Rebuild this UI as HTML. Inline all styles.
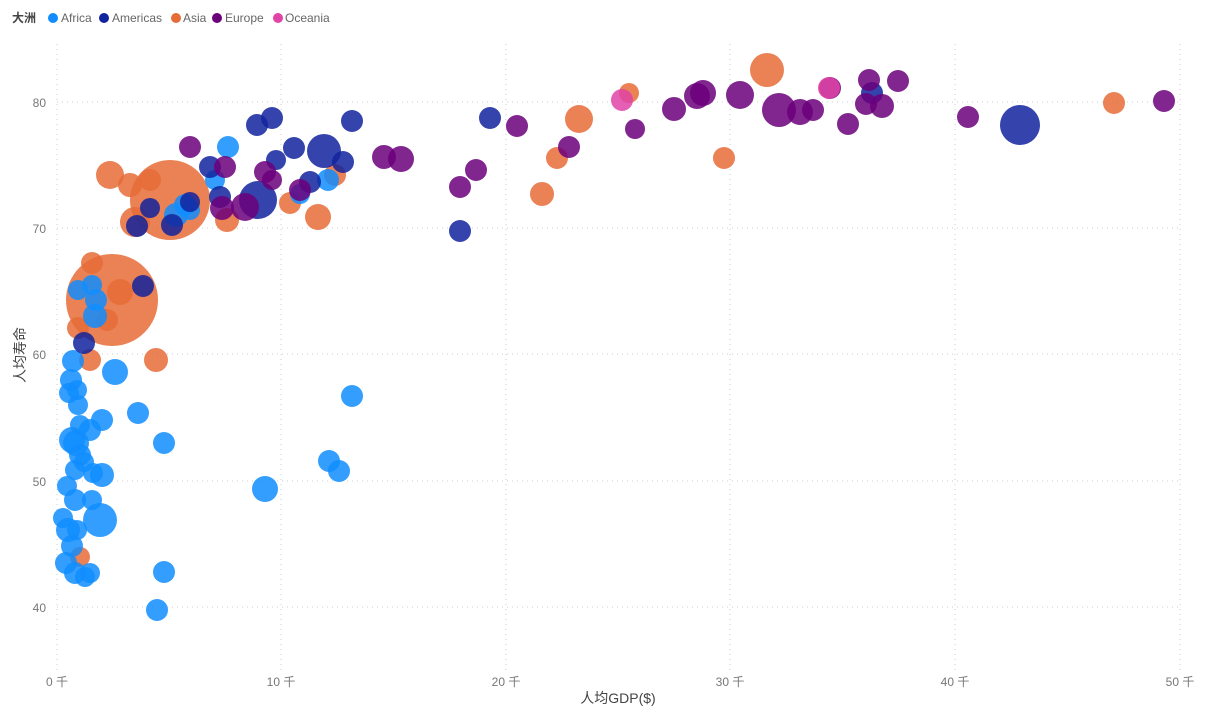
<!DOCTYPE html><html><head><meta charset="utf-8"><style>
body{margin:0;width:1210px;height:712px;background:#fff;overflow:hidden;font-family:"Liberation Sans","Noto Sans CJK SC",sans-serif}
</style></head><body>
<svg width="1210" height="712" xmlns="http://www.w3.org/2000/svg" style="font-family:'Liberation Sans','Noto Sans CJK SC',sans-serif">
<g font-size="12" fill="#444">
<text x="12" y="22" font-weight="bold">大洲</text>
<circle cx="53" cy="18" r="5" fill="#118DFF"/><text x="61" y="22" fill="#666">Africa</text>
<circle cx="104" cy="18" r="5" fill="#12239E"/><text x="112" y="22" fill="#666">Americas</text>
<circle cx="176" cy="18" r="5" fill="#E66C37"/><text x="183" y="22" fill="#666">Asia</text>
<circle cx="217" cy="18" r="5" fill="#6B007B"/><text x="225" y="22" fill="#666">Europe</text>
<circle cx="278" cy="18" r="5" fill="#E044A7"/><text x="285" y="22" fill="#666">Oceania</text>
</g>
<g stroke="#ccc" stroke-dasharray="1,4" stroke-width="1">
<line x1="57" y1="44" x2="57" y2="670"/><line x1="281" y1="44" x2="281" y2="670"/><line x1="506" y1="44" x2="506" y2="670"/><line x1="730" y1="44" x2="730" y2="670"/><line x1="955" y1="44" x2="955" y2="670"/><line x1="1180" y1="44" x2="1180" y2="670"/>
<line x1="57" y1="102" x2="1180" y2="102"/><line x1="57" y1="228" x2="1180" y2="228"/><line x1="57" y1="354" x2="1180" y2="354"/><line x1="57" y1="481" x2="1180" y2="481"/><line x1="57" y1="607" x2="1180" y2="607"/>
</g>
<g font-size="12" fill="#777" text-anchor="end">
<text x="46" y="107">80</text><text x="46" y="233">70</text><text x="46" y="359">60</text><text x="46" y="486">50</text><text x="46" y="612">40</text>
</g>
<g font-size="12" fill="#777" text-anchor="middle">
<text x="57" y="686">0 千</text><text x="281" y="686">10 千</text><text x="506" y="686">20 千</text><text x="730" y="686">30 千</text><text x="955" y="686">40 千</text><text x="1180" y="686">50 千</text>
</g>
<text x="618" y="703" font-size="14" fill="#444" text-anchor="middle">人均GDP($)</text>
<text transform="translate(25,355) rotate(-90)" font-size="14" fill="#444" text-anchor="middle">人均寿命</text>
<g id="pts"></g>
</svg>
<script>
var S={A:"#118DFF",M:"#12239E",S:"#E66C37",E:"#6B007B",O:"#E044A7"};
var D={
S:[[170,200,40],[112,300,46],[767,70,17],[629,93,10],[579,119,14],[1114,103,11],[724,158,11],[557,158,11],[542,194,12],[318,217,13],[290,203,11],[335,175,11],[227,220,12],[150,180,11],[110,175,14],[130,185,12],[135,222,15],[120,292,13],[92,263,11],[90,360,11],[156,360,12],[107,320,11],[78,328,11],[80,557,10]],
A:[[228,147,11],[92,285,10],[78,290,10],[96,300,11],[95,316,12],[73,361,11],[71,380,11],[115,372,13],[77,390,10],[69,393,10],[138,413,11],[78,405,10],[102,420,11],[80,425,10],[90,430,11],[76,443,13],[72,440,13],[80,455,11],[84,462,10],[164,443,11],[102,475,12],[93,473,10],[67,486,10],[75,500,11],[92,500,10],[100,520,17],[63,518,10],[68,530,12],[72,546,11],[66,563,11],[75,573,11],[90,573,10],[85,577,10],[164,572,11],[157,610,11],[265,489,13],[329,461,11],[339,471,11],[352,396,11],[300,194,10],[328,180,11],[215,180,10],[185,205,11],[190,210,10],[176,215,12],[77,530,10],[75,470,10]],
M:[[272,118,11],[257,125,11],[352,121,11],[490,118,11],[294,148,11],[324,151,17],[276,160,10],[343,162,11],[310,182,11],[210,167,11],[258,200,19],[220,197,11],[172,225,11],[137,226,11],[150,208,10],[190,202,10],[143,286,11],[84,343,11],[460,231,11],[1020,125,20],[872,93,11]],
E:[[1164,101,11],[869,80,11],[898,81,11],[830,88,11],[740,95,14],[703,93,13],[697,96,13],[779,110,17],[800,112,13],[813,110,11],[674,109,12],[848,124,11],[635,129,10],[968,117,11],[882,106,12],[866,104,11],[517,126,11],[569,147,11],[384,157,12],[401,159,13],[460,187,11],[476,170,11],[190,147,11],[225,167,11],[265,172,11],[272,180,10],[245,207,14],[222,208,12],[300,190,11]],
O:[[829,88,11],[622,100,11]]};
var g=document.getElementById("pts"),h="";
["S","A","M","E","O"].forEach(function(k){D[k].forEach(function(p){h+='<circle cx="'+p[0]+'" cy="'+p[1]+'" r="'+p[2]+'" fill="'+S[k]+'" fill-opacity="0.85"/>';});});
g.innerHTML=h;
</script>
</body></html>
